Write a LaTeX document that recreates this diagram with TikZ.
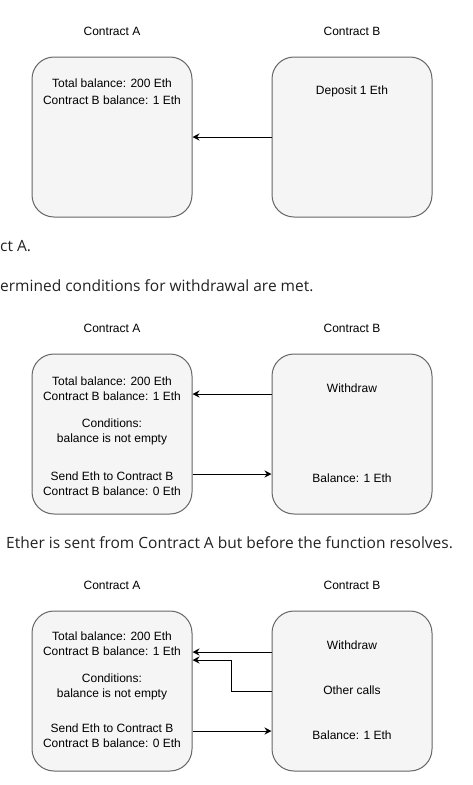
\documentclass[tikz,border=0pt]{standalone}
\usepackage{fontspec}
\setmainfont{Liberation Sans}
\newfontfamily\notefont{Open Sans}
\usetikzlibrary{arrows.meta}
\definecolor{boxfill}{HTML}{F5F5F5}
\definecolor{boxline}{HTML}{666666}
\definecolor{notetext}{HTML}{222222}
\begin{document}
\begin{tikzpicture}[x=1pt, y=-1pt, font=\fontsize{12}{15}\selectfont,
    contract/.style={draw=boxline, line width=1pt, rounded corners=22pt, fill=boxfill,
                minimum width=160pt, minimum height=160pt, inner sep=0pt},
    txt/.style={align=center, inner sep=0pt},
    note/.style={anchor=west, inner sep=0pt, text=notetext,
                font=\notefont\fontsize{15.5}{19}\selectfont},
    call/.style={-{Stealth[length=7pt, width=7pt]}, line width=1pt},
  ]
    \useasboundingbox (0,0) rectangle (473,785);

    % deposit
    \node[txt] (ta1) at (112,31) {Contract A};
    \node[txt] (tb1) at (352,31) {Contract B};
    \node[contract] (a1) at (112,137) {};
    \node[contract] (b1) at (352,137) {};
    \node[txt, font=\fontsize{12}{16.7}\selectfont] (a1bal) at (112,91.7)
      {Total balance: 200 Eth\\Contract B balance: 1 Eth};
    \node[txt] (b1dep) at (352,91.7) {Deposit 1 Eth};
    \draw[call] (b1.west) -- (a1.east);

    % notes
    \node[note] (n1) at (0,246) {ct A.};
    \node[note] (n2) at (0,286) {ermined conditions for withdrawal are met.};

    % withdraw
    \node[txt] (ta2) at (112,328) {Contract A};
    \node[txt] (tb2) at (352,328) {Contract B};
    \node[contract] (a2) at (112,434) {};
    \node[contract] (b2) at (352,434) {};
    \node[txt] (a2bal) at (112,389.2) {Total balance: 200 Eth\\Contract B balance: 1 Eth};
    \node[txt] (a2cond) at (112,432) {Conditions:\\balance is not empty};
    \node[txt] (a2send) at (112,484) {Send Eth to Contract B\\Contract B balance: 0 Eth};
    \node[txt] (b2wd) at (352,388) {Withdraw};
    \node[txt] (b2bal) at (352,478) {Balance: 1 Eth};
    \draw[call] ([yshift=40pt]b2.west) -- ([yshift=40pt]a2.east);
    \draw[call] ([yshift=-40pt]a2.east) -- ([yshift=-40pt]b2.west);

    \node[note] (n3) at (6,543) {Ether is sent from Contract A but before the function resolves.};

    % re-entrancy
    \node[txt] (ta3) at (112,585) {Contract A};
    \node[txt] (tb3) at (352,585) {Contract B};
    \node[contract] (a3) at (112,691) {};
    \node[contract] (b3) at (352,691) {};
    \node[txt] (a3bal) at (112,644) {Total balance: 200 Eth\\Contract B balance: 1 Eth};
    \node[txt] (a3cond) at (112,687) {Conditions:\\balance is not empty};
    \node[txt] (a3send) at (112,735.5) {Send Eth to Contract B\\Contract B balance: 0 Eth};
    \node[txt] (b3wd) at (352,645) {Withdraw};
    \node[txt] (b3oc) at (352,690) {Other calls};
    \node[txt] (b3bal) at (352,735) {Balance: 1 Eth};
    \draw[call] ([yshift=39pt]b3.west) -- ([yshift=39pt]a3.east);
    \draw[call] (b3.west) -- ++(-40,0) |- ([yshift=31pt]a3.east);
    \draw[call] ([yshift=-40pt]a3.east) -- ([yshift=-40pt]b3.west);
  \end{tikzpicture}
\end{document}
